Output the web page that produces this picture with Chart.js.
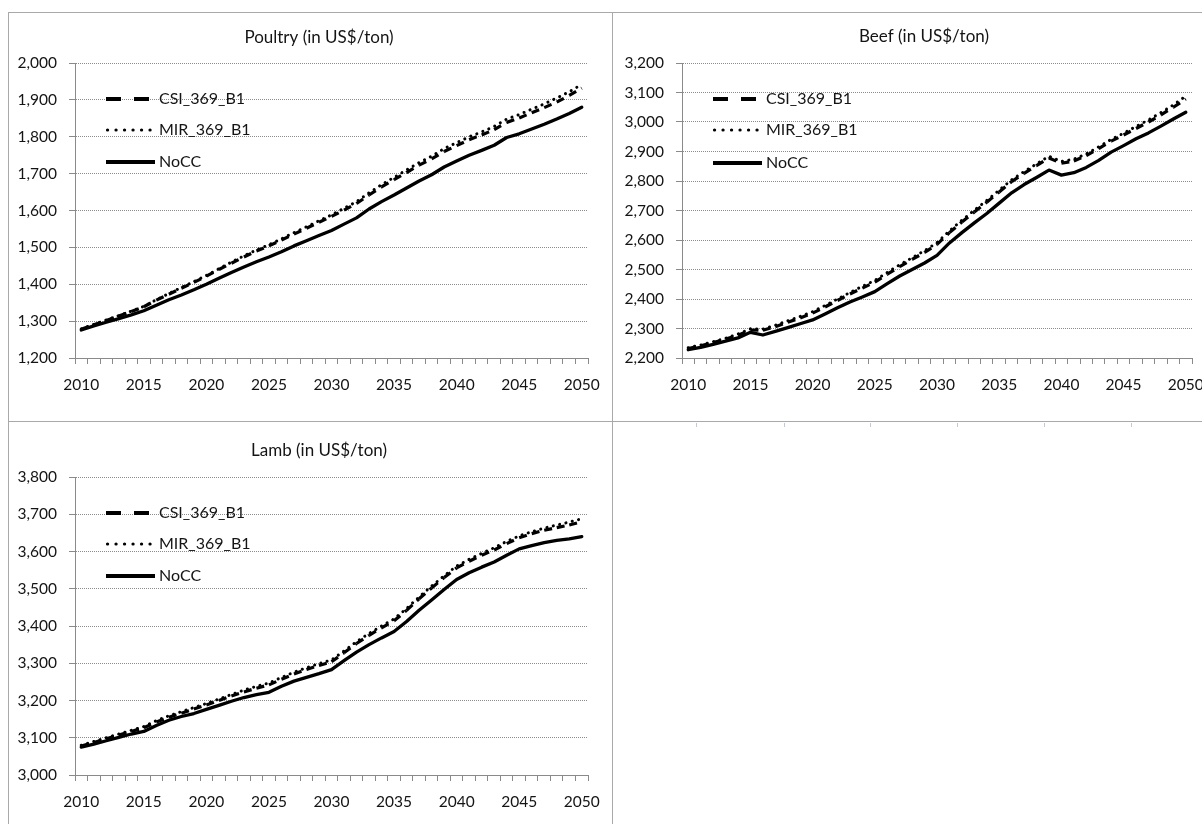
<!DOCTYPE html>
<html><head><meta charset="utf-8">
<script src="https://cdn.jsdelivr.net/npm/chart.js@4.4.1/dist/chart.umd.min.js"></script>
<style>
html,body{margin:0;padding:0;background:#fff;overflow:hidden;width:1202px;height:824px;position:relative;}
.hl{position:absolute;height:1px;background:#a9a9a9;}
.vl{position:absolute;width:1px;background:#a9a9a9;}
.rem{position:absolute;width:1px;height:4px;background:#c4c8d4;top:423px;}
canvas{position:absolute;}
</style></head><body>
<div class="hl" style="left:8px;top:12px;width:1194px"></div>
<div class="hl" style="left:8px;top:421px;width:1194px"></div>
<div class="vl" style="left:8px;top:12px;height:812px"></div>
<div class="vl" style="left:612px;top:12px;height:812px"></div>
<div class="rem" style="left:696px"></div><div class="rem" style="left:784px"></div>
<div class="rem" style="left:870px"></div><div class="rem" style="left:957px"></div>
<div class="rem" style="left:1044px"></div><div class="rem" style="left:1131px"></div>
<canvas id="poultry" width="603" height="408" style="left:9px;top:13px"></canvas>
<canvas id="beef" width="603" height="408" style="left:613px;top:13px"></canvas>
<canvas id="lamb" width="603" height="402" style="left:9px;top:422px"></canvas>
<script>
const years = ["2010","2011","2012","2013","2014","2015","2016","2017","2018","2019","2020","2021","2022","2023","2024","2025","2026","2027","2028","2029","2030","2031","2032","2033","2034","2035","2036","2037","2038","2039","2040","2041","2042","2043","2044","2045","2046","2047","2048","2049","2050"];
const xTickLabels = ["2010","2015","2020","2025","2030","2035","2040","2045","2050"];
const seriesNames = ["CSI_369_B1","MIR_369_B1","NoCC"];

const poultryCSI  = [1278,1290,1302,1314,1326,1339,1357,1373,1389,1405,1422,1440,1457,1474,1490,1504,1520,1536,1552,1568,1584,1601,1619,1642,1664,1684,1703,1723,1740,1760,1776,1792,1805,1819,1839,1851,1865,1879,1894,1912,1932];
const poultryMIR  = [1279,1291,1303,1315,1327,1340,1358,1375,1391,1407,1424,1442,1460,1477,1493,1507,1523,1540,1556,1572,1588,1606,1624,1648,1670,1690,1710,1730,1747,1768,1784,1800,1813,1828,1848,1860,1875,1889,1905,1922,1942];
const poultryNoCC = [1276,1287,1297,1307,1317,1328,1343,1358,1371,1385,1400,1416,1432,1447,1461,1474,1488,1504,1518,1532,1546,1563,1580,1604,1624,1642,1661,1680,1697,1718,1734,1750,1763,1777,1798,1808,1821,1834,1848,1863,1880];
const poultryTicks = [1200,1300,1400,1500,1600,1700,1800,1900,2000];

const beefCSI  = [2232,2241,2252,2264,2277,2295,2294,2306,2321,2336,2352,2373,2395,2417,2437,2457,2484,2510,2534,2558,2585,2625,2661,2695,2728,2763,2798,2826,2852,2878,2860,2868,2886,2910,2935,2956,2978,3000,3024,3050,3078];
const beefMIR  = [2235,2244,2255,2267,2281,2299,2298,2311,2326,2341,2357,2378,2400,2422,2443,2463,2490,2516,2540,2564,2591,2631,2667,2701,2734,2769,2804,2832,2858,2884,2866,2874,2892,2916,2941,2962,2985,3007,3032,3058,3088];
const beefNoCC = [2228,2236,2246,2257,2268,2287,2278,2290,2303,2316,2329,2349,2370,2390,2407,2425,2452,2478,2500,2522,2548,2590,2625,2658,2690,2725,2760,2788,2812,2837,2820,2828,2846,2870,2898,2920,2943,2963,2986,3010,3033];
const beefTicks = [2200,2300,2400,2500,2600,2700,2800,2900,3000,3100,3200];

const lambCSI  = [3078,3087,3097,3107,3117,3127,3142,3155,3166,3177,3188,3200,3212,3223,3233,3242,3257,3271,3283,3294,3304,3328,3353,3375,3395,3414,3442,3473,3502,3530,3556,3574,3590,3604,3621,3637,3648,3657,3664,3671,3680];
const lambMIR  = [3080,3090,3100,3110,3120,3130,3146,3159,3170,3181,3192,3204,3216,3228,3238,3247,3262,3276,3288,3299,3309,3333,3358,3380,3400,3419,3447,3478,3507,3535,3561,3579,3595,3610,3627,3642,3653,3663,3671,3679,3688];
const lambNoCC = [3075,3083,3092,3101,3110,3117,3133,3147,3157,3165,3176,3187,3198,3208,3216,3222,3238,3252,3262,3272,3283,3307,3330,3350,3368,3385,3412,3442,3470,3498,3525,3543,3558,3572,3590,3607,3616,3624,3630,3634,3640];
const lambTicks = [3000,3100,3200,3300,3400,3500,3600,3700,3800];

const FONT = 'Lato, "Open Sans", sans-serif';
const TXT = '#141414';
const AXIS = '#8a8a8a';

const panelText = {
  id: 'panelText',
  afterDraw(chart, args, o) {
    const ctx = chart.ctx, ca = chart.chartArea;
    ctx.save();
    ctx.fillStyle = TXT;
    ctx.textBaseline = 'middle';
    ctx.textAlign = 'center';
    ctx.font = '17px ' + FONT;
    ctx.fillText(o.title, o.titleX, o.titleY);
    const sx = ca.left + 31, tx = ca.left + 84;
    const ly = [ca.top + o.ly[0], ca.top + o.ly[1], ca.top + o.ly[2]];
    ctx.strokeStyle = '#000';
    // CSI sample
    ctx.lineWidth = 4; ctx.lineCap = 'butt'; ctx.setLineDash([15, 13]);
    ctx.beginPath(); ctx.moveTo(sx, ly[0]); ctx.lineTo(sx + 44, ly[0]); ctx.stroke();
    // MIR sample
    ctx.lineWidth = 3.2; ctx.lineCap = 'round'; ctx.setLineDash([0.1, 8.4]);
    ctx.beginPath(); ctx.moveTo(sx + 1.5, ly[1]); ctx.lineTo(sx + 45, ly[1]); ctx.stroke();
    // NoCC sample
    ctx.lineWidth = 4; ctx.lineCap = 'butt'; ctx.setLineDash([]);
    ctx.beginPath(); ctx.moveTo(sx, ly[2]); ctx.lineTo(sx + 49, ly[2]); ctx.stroke();
    ctx.textAlign = 'left';
    ctx.font = '16px ' + FONT;
    chart.data.datasets.forEach((d, i) => ctx.fillText(d.label, tx, ly[i]));
    ctx.restore();
  }
};

function makeChart(id, c) {
  new Chart(document.getElementById(id), {
    type: 'line',
    data: {
      labels: years,
      datasets: [
        { label: seriesNames[0], data: c.csi, borderColor: '#000', borderWidth: 3.2, borderDash: [8, 6],
          borderCapStyle: 'butt', pointRadius: 0, tension: 0, fill: false,
          segment: { borderDashOffset: s => (s.p0DataIndex % 2) ? 0.001 : 0 } },
        { label: seriesNames[1], data: c.mir, borderColor: '#000', borderWidth: 3, borderDash: [0.1, 6.4],
          borderCapStyle: 'round', pointRadius: 0, tension: 0, fill: false },
        { label: seriesNames[2], data: c.nocc, borderColor: '#000', borderWidth: 3.3,
          borderCapStyle: 'round', borderJoinStyle: 'round', pointRadius: 0, tension: 0, fill: false }
      ]
    },
    options: {
      responsive: false, animation: false, devicePixelRatio: 1,
      layout: { padding: { left: 0, top: c.padTop, right: c.padRight, bottom: 0 } },
      plugins: {
        legend: { display: false }, title: { display: false }, tooltip: { enabled: false },
        panelText: { title: c.title, titleX: c.titleX, titleY: c.titleY, ly: c.ly }
      },
      scales: {
        x: {
          type: 'category', offset: true,
          grid: { display: true, drawOnChartArea: false, drawTicks: true, tickLength: 6, tickColor: AXIS, color: AXIS, offset: true },
          border: { display: true, color: AXIS, width: 1 },
          ticks: { autoSkip: false, maxRotation: 0, minRotation: 0, padding: 12, color: TXT,
                   font: { family: FONT, size: 15.5 },
                   callback: function (v, i) { const l = years[i]; return xTickLabels.includes(l) ? l : ''; } },
          afterFit: s => { s.height = c.xHeight; }
        },
        y: {
          min: c.ticks[0], max: c.ticks[c.ticks.length - 1],
          ticks: { stepSize: c.ticks[1] - c.ticks[0], padding: 12, color: TXT,
                   font: { family: FONT, size: 15.5 },
                   callback: v => Number(v).toLocaleString('en-US') },
          grid: { color: '#8c8c8c', lineWidth: 1, tickLength: 6, tickColor: AXIS, tickBorderDash: [] },
          border: { display: true, color: AXIS, width: 1, dash: [1, 1] },
          afterFit: s => { s.width = c.yWidth; }
        }
      }
    },
    plugins: [panelText]
  });
}

makeChart('poultry', { csi: poultryCSI, mir: poultryMIR, nocc: poultryNoCC, ticks: poultryTicks,
  title: 'Poultry (in US$/ton)', titleX: 310, titleY: 25, ly: [36, 67, 99],
  padTop: 50, padRight: 21, yWidth: 66, xHeight: 63 });
makeChart('beef', { csi: beefCSI, mir: beefMIR, nocc: beefNoCC, ticks: beefTicks,
  title: 'Beef (in US$/ton)', titleX: 311, titleY: 24, ly: [36, 67, 100],
  padTop: 50, padRight: 18, yWidth: 69, xHeight: 63 });
makeChart('lamb', { csi: lambCSI, mir: lambMIR, nocc: lambNoCC, ticks: lambTicks,
  title: 'Lamb (in US$/ton)', titleX: 310, titleY: 29, ly: [36, 67, 99],
  padTop: 55, padRight: 21, yWidth: 66, xHeight: 49 });
</script>
</body></html>
